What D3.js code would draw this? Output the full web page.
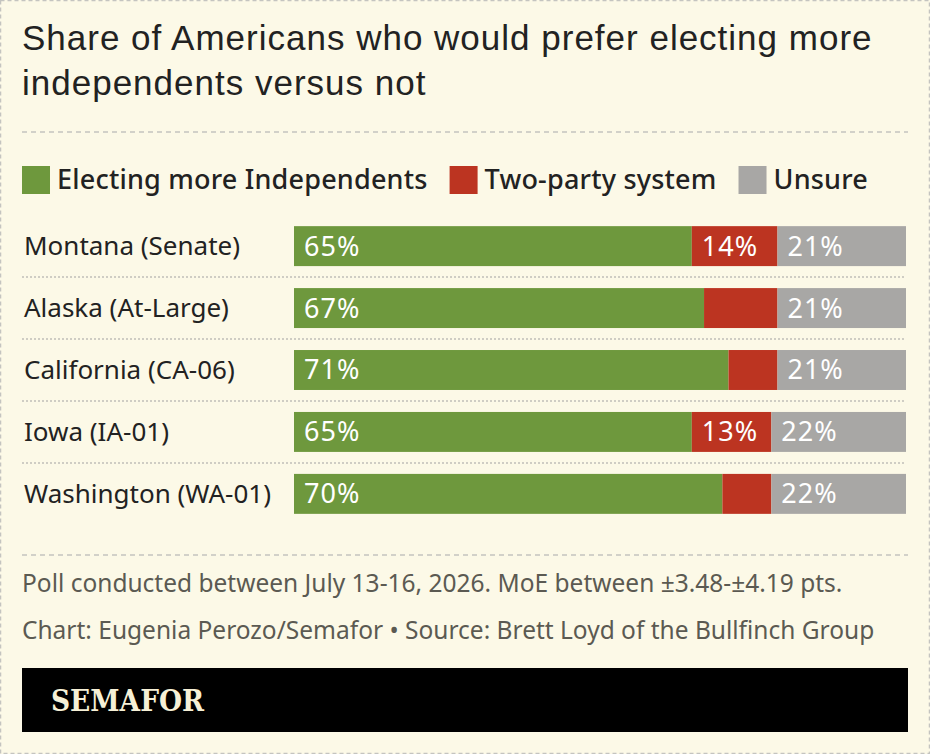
<!DOCTYPE html>
<html>
<head>
<meta charset="utf-8">
<script src="https://cdn.jsdelivr.net/npm/d3@7"></script>
<style>
  html, body { margin: 0; padding: 0; background: #fcf9e7; }
  svg { display: block; }
</style>
</head>
<body>
<div id="chart"></div>
<script>
const states = ["Montana (Senate)", "Alaska (At-Large)", "California (CA-06)", "Iowa (IA-01)", "Washington (WA-01)"];
const independents = [65, 67, 71, 65, 70];
const twoParty = [14, 12, 8, 13, 8];
const unsure = [21, 21, 21, 22, 22];
const seriesNames = ["Electing more Independents", "Two-party system", "Unsure"];
const seriesColors = ["#6e983d", "#bc3421", "#a8a7a5"];
// small segments don't get a label
const minLabel = 13;

const width = 930, height = 754;
const labelFont = "'Noto Sans', 'Open Sans', sans-serif";

const svg = d3.select('#chart').append('svg')
    .attr('width', width)
    .attr('height', height);

svg.append('rect')
    .attr('x', 0.5).attr('y', 0.5)
    .attr('width', width - 1).attr('height', height - 1)
    .attr('fill', '#fcf9e7')
    .attr('stroke', '#c4c4c0')
    .attr('stroke-width', 1.5)
    .attr('stroke-dasharray', '4,3');

// title
svg.append('text')
    .attr('x', 22).attr('y', 0)
    .attr('font-family', "'Liberation Sans', Arial, sans-serif")
    .attr('font-size', 35)
    .attr('letter-spacing', 1)
    .attr('fill', '#222')
    .selectAll('tspan')
    .data(["Share of Americans who would prefer electing more", "independents versus not"])
    .enter().append('tspan')
    .attr('x', 22)
    .attr('y', (d, i) => 50 + i * 45)
    .text(d => d);

const rule = (y) => svg.append('line')
    .attr('x1', 22).attr('x2', 908)
    .attr('y1', y).attr('y2', y)
    .attr('stroke', '#c4c4c0')
    .attr('stroke-width', 1.5)
    .attr('stroke-dasharray', '5,4');
rule(132);
rule(555);

// legend
const legend = svg.append('g').attr('transform', 'translate(22,166)');
let lx = 0;
seriesNames.forEach((name, i) => {
    const g = legend.append('g').attr('transform', `translate(${lx},0)`);
    g.append('rect').attr('width', 28).attr('height', 28).attr('fill', seriesColors[i]);
    const t = g.append('text')
        .attr('x', 35).attr('y', 23)
        .attr('font-family', labelFont)
        .attr('font-size', 27)
        .attr('font-weight', 500)
        .attr('letter-spacing', 0.2)
        .attr('fill', '#222')
        .text(name);
    lx += 35 + t.node().getComputedTextLength() + 22;
});

// scales
const x = d3.scaleLinear().domain([0, 100]).range([294, 906]);
const y = d3.scaleBand().domain(states).range([215, 525]).paddingInner(0.355).paddingOuter(0.18);

const rows = states.map((s, i) => {
    const vals = [independents[i], twoParty[i], unsure[i]];
    let acc = 0;
    return {
        state: s,
        segs: vals.map((v, k) => {
            const seg = { v: v, x0: acc, x1: acc + v, k: k };
            acc += v;
            return seg;
        })
    };
});

const row = svg.selectAll('g.row')
    .data(rows)
    .enter().append('g')
    .attr('class', 'row')
    .attr('transform', d => `translate(0,${y(d.state)})`);

// dotted separators between rows
svg.selectAll('line.sep')
    .data(states.slice(1))
    .enter().append('line')
    .attr('class', 'sep')
    .attr('x1', 22).attr('x2', 906)
    .attr('y1', d => y(d) - (y.step() - y.bandwidth()) / 2)
    .attr('y2', d => y(d) - (y.step() - y.bandwidth()) / 2)
    .attr('stroke', '#cfcdc4')
    .attr('stroke-width', 2)
    .attr('stroke-dasharray', '2,2');

row.append('text')
    .attr('x', 24)
    .attr('y', y.bandwidth() / 2 + 9)
    .attr('font-family', labelFont)
    .attr('font-size', 26)
    .attr('fill', '#222')
    .text(d => d.state);

row.selectAll('rect')
    .data(d => d.segs)
    .enter().append('rect')
    .attr('x', d => x(d.x0))
    .attr('width', d => x(d.x1) - x(d.x0))
    .attr('height', y.bandwidth())
    .attr('fill', d => seriesColors[d.k]);

row.selectAll('text.val')
    .data(d => d.segs.filter(s => s.v >= minLabel))
    .enter().append('text')
    .attr('class', 'val')
    .attr('x', d => x(d.x0) + 10)
    .attr('y', y.bandwidth() / 2 + 9.5)
    .attr('font-family', labelFont)
    .attr('font-size', 27)
    .attr('letter-spacing', 1)
    .attr('fill', '#fff')
    .text(d => d.v + '%');

// notes
const notes = [
    "Poll conducted between July 13-16, 2026. MoE between \u00b13.48-\u00b14.19 pts.",
    "Chart: Eugenia Perozo/Semafor \u2022 Source: Brett Loyd of the Bullfinch Group"
];
svg.selectAll('text.note')
    .data(notes)
    .enter().append('text')
    .attr('class', 'note')
    .attr('x', 22)
    .attr('y', (d, i) => 592 + i * 47)
    .attr('font-family', labelFont)
    .attr('font-size', 24.5)
    .attr('fill', '#5b5a52')
    .text(d => d);

// brand bar
svg.append('rect')
    .attr('x', 22).attr('y', 668)
    .attr('width', 886).attr('height', 64)
    .attr('fill', '#000');
svg.append('text')
    .attr('x', 51).attr('y', 711)
    .attr('font-family', "'DejaVu Serif', 'Liberation Serif', serif")
    .attr('font-size', 29)
    .attr('font-weight', 'bold')
    .attr('fill', '#f6f0d6')
    .attr('textLength', 153)
    .attr('lengthAdjust', 'spacingAndGlyphs')
    .text("SEMAFOR");
</script>
</body>
</html>
